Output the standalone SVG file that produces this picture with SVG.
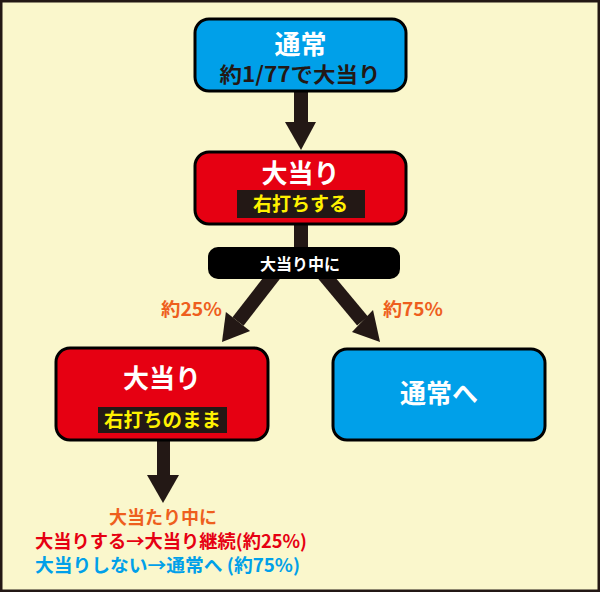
<svg xmlns="http://www.w3.org/2000/svg" width="600" height="592" viewBox="0 0 600 592">
<style>
.jp{font-family:"Noto Sans CJK JP","Noto Sans",sans-serif;font-weight:bold}
.box{stroke:#000;stroke-width:3}
.blue{fill:#00A0E9}
.red{fill:#E60012}
.w{fill:#fff}
.y{fill:#FFF100}
.ar{fill:#231815}
.or{fill:#EE5F1E}
</style>
<rect x="1.25" y="1.25" width="597.5" height="589.5" fill="#FAF7CC" stroke="#231815" stroke-width="2.5"/>
<g id="connectors">
<rect class="ar" x="294" y="90" width="14" height="34"/>
<polygon class="ar" points="285,122 316,122 301,150"/>
<rect class="ar" x="294" y="222" width="14" height="30"/>
<line x1="285" y1="261" x2="238" y2="321.5" stroke="#231815" stroke-width="14"/>
<polygon class="ar" points="225.9,312 250.1,331 222,342"/>
<line x1="312.5" y1="261" x2="362.5" y2="321" stroke="#231815" stroke-width="14"/>
<polygon class="ar" points="373,310 352,332 380,342"/>
<rect class="ar" x="157" y="438" width="13" height="39"/>
<polygon class="ar" points="147,475 179,475 163,503"/>
</g>
<g id="node-normal">
<rect class="box blue" x="195" y="19" width="211" height="72" rx="14"/>
<text class="jp w" x="300.5" y="54" font-size="26" text-anchor="middle">通常</text>
<text class="jp" x="300" y="82" font-size="21" fill="#231815" text-anchor="middle" textLength="161" lengthAdjust="spacingAndGlyphs">約1/77で大当り</text>
</g>
<g id="node-bonus">
<rect class="box red" x="195" y="152" width="211" height="72" rx="14"/>
<text class="jp w" x="300.5" y="183" font-size="26" text-anchor="middle">大当り</text>
<rect fill="#231815" x="237" y="190" width="128" height="28"/>
<text class="jp y" x="300.5" y="211" font-size="19" text-anchor="middle">右打ちする</text>
</g>
<g id="node-during">
<rect fill="#000" x="208" y="247" width="192" height="32" rx="10"/>
<text class="jp w" x="300" y="270" font-size="16" text-anchor="middle">大当り中に</text>
</g>
<g id="labels">
<text class="jp or" x="161" y="316" font-size="18" textLength="61" lengthAdjust="spacingAndGlyphs">約25%</text>
<text class="jp or" x="383" y="316" font-size="18" textLength="60" lengthAdjust="spacingAndGlyphs">約75%</text>
</g>
<g id="node-bonus2">
<rect class="box red" x="56" y="348" width="212" height="92" rx="14"/>
<text class="jp w" x="162" y="388" font-size="26" text-anchor="middle">大当り</text>
<rect fill="#231815" x="98" y="407" width="129" height="26"/>
<text class="jp y" x="162.5" y="427" font-size="19.5" text-anchor="middle">右打ちのまま</text>
</g>
<g id="node-back">
<rect class="box blue" x="333" y="349" width="212" height="91" rx="14"/>
<text class="jp w" x="439" y="403" font-size="26" text-anchor="middle">通常へ</text>
</g>
<g id="note">
<text class="jp or" x="163" y="524" font-size="18" text-anchor="middle">大当たり中に</text>
<text class="jp" x="35" y="548" font-size="18" fill="#E60012" textLength="272" lengthAdjust="spacingAndGlyphs">大当りする→大当り継続(約25%)</text>
<text class="jp" x="35" y="572" font-size="18" fill="#00A0E9" textLength="265" lengthAdjust="spacingAndGlyphs">大当りしない→通常へ (約75%)</text>
</g>
</svg>
